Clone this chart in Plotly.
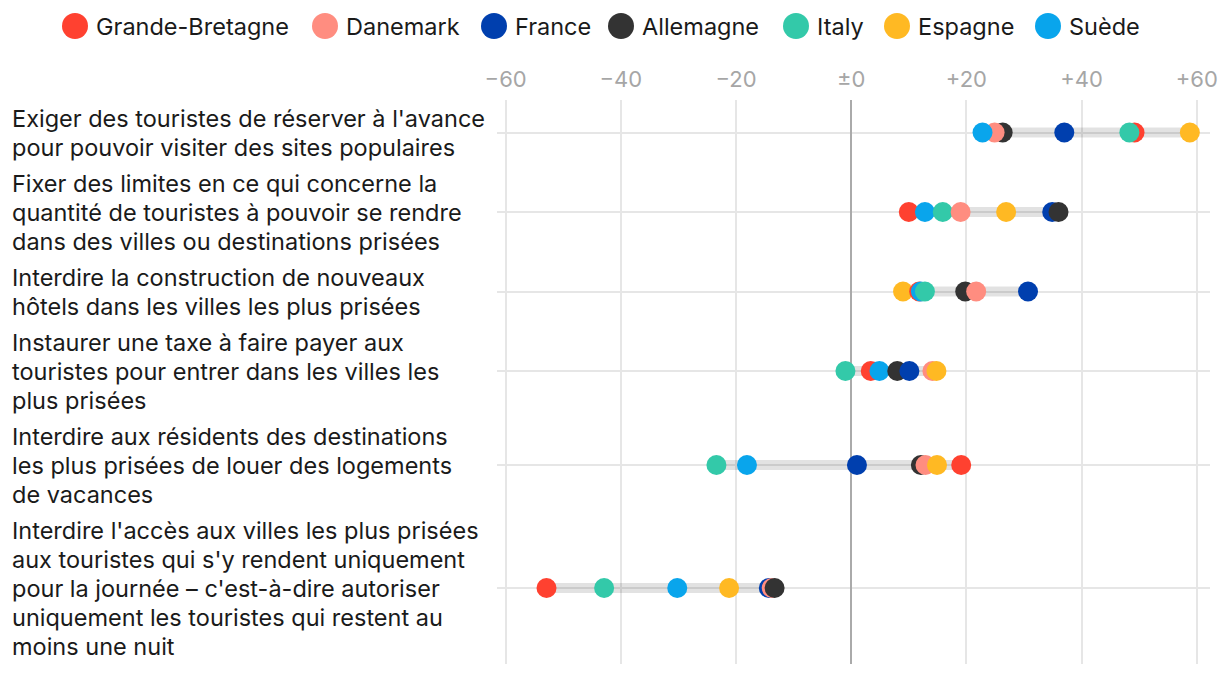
import plotly.graph_objects as go

# ---------------- data ----------------
row_labels = [
    ["Exiger des touristes de réserver à l'avance",
     "pour pouvoir visiter des sites populaires"],
    ["Fixer des limites en ce qui concerne la",
     "quantité de touristes à pouvoir se rendre",
     "dans des villes ou destinations prisées"],
    ["Interdire la construction de nouveaux",
     "hôtels dans les villes les plus prisées"],
    ["Instaurer une taxe à faire payer aux",
     "touristes pour entrer dans les villes les",
     "plus prisées"],
    ["Interdire aux résidents des destinations",
     "les plus prisées de louer des logements",
     "de vacances"],
    ["Interdire l'accès aux villes les plus prisées",
     "aux touristes qui s'y rendent uniquement",
     "pour la journée – c'est-à-dire autoriser",
     "uniquement les touristes qui restent au",
     "moins une nuit"],
]

countries = ["Grande-Bretagne", "Danemark", "France", "Allemagne", "Italy", "Espagne", "Suède"]
country_colors = ["#ff4130", "#ff8d80", "#003fae", "#333333", "#33c9a9", "#ffb923", "#09a5ec"]

grande_bretagne = [49.2, 10.0, 11.8, 3.4, 19.1, -52.9]
danemark        = [24.9, 19.0, 21.7, 14.1, 12.9, -13.8]
france          = [37.0, 34.9, 30.7, 10.1, 1.0, -14.3]
allemagne       = [26.3, 36.0, 19.8, 8.0, 12.1, -13.3]
italy           = [48.3, 15.9, 12.8, -1.0, -23.4, -42.9]
espagne         = [58.8, 26.9, 9.0, 14.8, 14.9, -21.2]
suede           = [22.8, 12.8, 12.1, 4.9, -18.1, -30.2]

series = [grande_bretagne, danemark, france, allemagne, italy, espagne, suede]

tick_vals = [-60, -40, -20, 0, 20, 40, 60]
tick_text = ["−60", "−40", "−20", "±0", "+20", "+40", "+60"]

# drawing order of overlapping dots within each row (stacking only)
row_draw_descending = [True, False, False, False, False, False]

# ---------------- layout constants ----------------
W, H = 1220, 674
M_L, M_R, M_T, M_B = 497, 10, 100, 10
PW = W - M_L - M_R
PH = H - M_T - M_B
LINE_H = 29
ROW_PAD = 7
FONT = "Inter"
TEXT_COLOR = "#1a1a1a"
LABEL_SIZE = 23.5

# row geometry (y axis in pixel-like units, reversed)
heights = [len(l) * LINE_H + ROW_PAD for l in row_labels]
centers = []
acc = 0
for h in heights:
    centers.append(acc + h / 2)
    acc += h
total_h = acc

fig = go.Figure()

# range bands
for r, c in enumerate(centers):
    vals = [s[r] for s in series]
    fig.add_trace(go.Scatter(
        x=[min(vals), max(vals)], y=[c, c], mode="lines",
        line=dict(color="rgba(0,0,0,0.115)", width=10),
        hoverinfo="skip", showlegend=False))

# dots
for r, c in enumerate(centers):
    pts = sorted([(s[r], i) for i, s in enumerate(series)], reverse=row_draw_descending[r])
    fig.add_trace(go.Scatter(
        x=[p[0] for p in pts], y=[c] * len(pts), mode="markers",
        marker=dict(size=20, color=[country_colors[p[1]] for p in pts], line=dict(width=0)),
        text=[countries[p[1]] for p in pts],
        hovertemplate="%{text}: %{x}<extra></extra>",
        showlegend=False))

annotations = []
# row labels, left aligned, one annotation per line
label_x_px = 10
for r, lines in enumerate(row_labels):
    n = len(lines)
    for k, ln in enumerate(lines):
        yy = centers[r] + (k - (n - 1) / 2) * LINE_H
        annotations.append(dict(
            text=ln, xref="paper", yref="y",
            x=(label_x_px - M_L) / PW, y=yy,
            xanchor="left", yanchor="middle", showarrow=False,
            font=dict(family=FONT, size=LABEL_SIZE, color=TEXT_COLOR)))

# custom legend
legend_circle_px = [75, 325, 494, 621, 796, 897, 1048]
legend_y_px = 26
shapes = []
for name, col, cx in zip(countries, country_colors, legend_circle_px):
    xp = (cx - M_L) / PW
    yp = 1 + (M_T - legend_y_px) / PH
    shapes.append(dict(
        type="circle", xref="paper", yref="paper",
        xsizemode="pixel", ysizemode="pixel",
        xanchor=xp, yanchor=yp, x0=-13, x1=13, y0=-13, y1=13,
        fillcolor=col, line=dict(width=0)))
    annotations.append(dict(
        text=name, xref="paper", yref="paper",
        x=(cx + 19 - M_L) / PW, y=yp, xanchor="left", yanchor="middle",
        showarrow=False, font=dict(family=FONT, size=LABEL_SIZE, color=TEXT_COLOR)))

fig.update_layout(
    width=W, height=H,
    margin=dict(l=M_L, r=M_R, t=M_T, b=M_B, autoexpand=False),
    paper_bgcolor="white", plot_bgcolor="white",
    showlegend=False,
    xaxis=dict(
        side="top", range=[-61.5, 62.3],
        tickvals=tick_vals, ticktext=tick_text,
        tickfont=dict(family=FONT, size=22, color="#a6a6a6"),
        ticklabelstandoff=8, automargin=False,
        showgrid=True, gridcolor="#e6e6e6", gridwidth=1.5,
        zeroline=True, zerolinecolor="#aaaaaa", zerolinewidth=1.5,
        showline=False, ticks="", fixedrange=True),
    yaxis=dict(
        range=[total_h, 0], tickvals=centers, showticklabels=False,
        automargin=False,
        showgrid=True, gridcolor="#e6e6e6", gridwidth=1.5,
        zeroline=False, showline=False, ticks="", fixedrange=True),
    annotations=annotations,
    shapes=shapes,
)

fig.write_html("out.html", config={"displayModeBar": False},
               post_script="document.body.style.margin='0';")
